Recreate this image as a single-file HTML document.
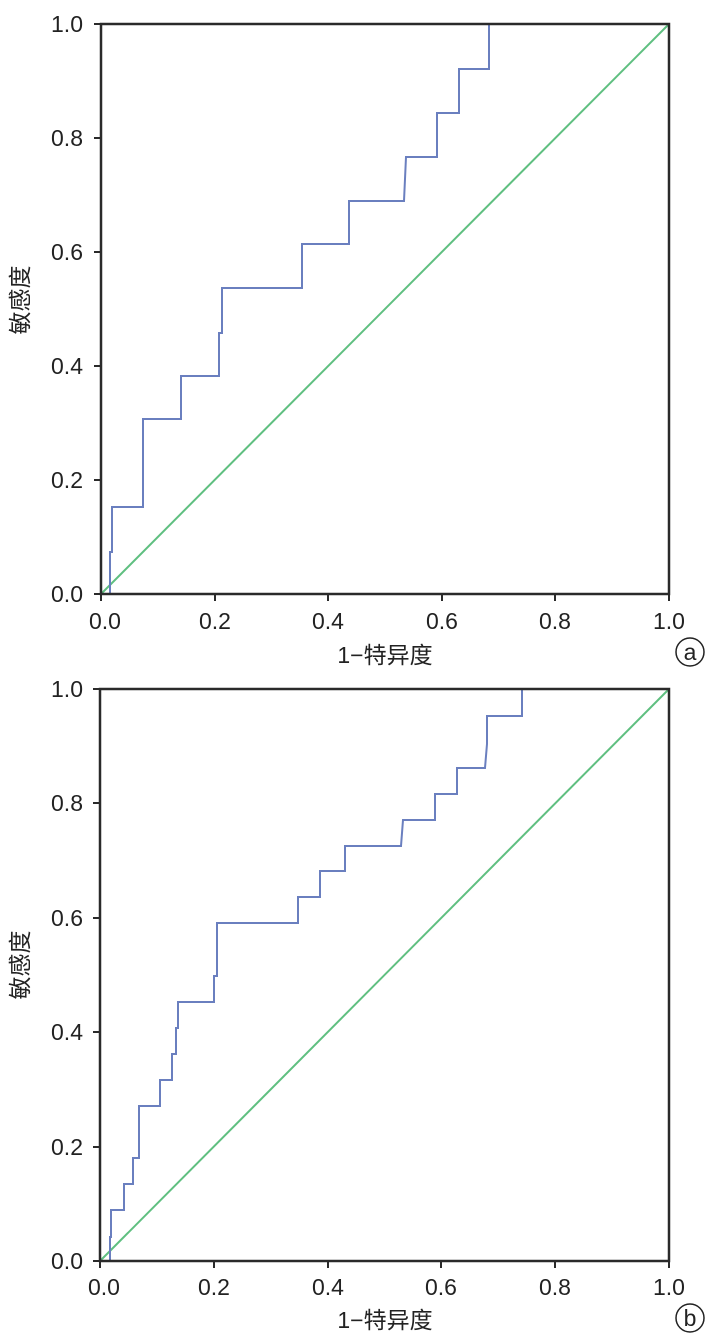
<!DOCTYPE html>
<html><head><meta charset="utf-8"><style>
html,body{margin:0;padding:0;background:#fff;width:709px;height:1337px;overflow:hidden}
text{font-family:"Liberation Sans","Noto Sans CJK SC",sans-serif;fill:#222}
</style></head><body>
<svg width="709" height="1337" viewBox="0 0 709 1337" xmlns="http://www.w3.org/2000/svg">
<g font-size="23">
<!-- Plot a -->
<line x1="101" y1="594" x2="669" y2="24" stroke="#5fbf80" stroke-width="2"/>
<polyline fill="none" stroke="#6a7fbf" stroke-width="2" points="110,594 110,552 112,552 112,507 143,507 143,419 181,419 181,376 219,376 219,333 222,333 222,288 302,288 302,244 349,244 349,201 404,201 406,157 437,157 437,113 459,113 459,69 489,69 489,24 669,24"/>
<rect x="101" y="24" width="568" height="570" fill="none" stroke="#2a2a2a" stroke-width="2.5"/>
<g stroke="#2a2a2a" stroke-width="2">
<line x1="94" y1="24" x2="101" y2="24"/><line x1="94" y1="138" x2="101" y2="138"/><line x1="94" y1="252" x2="101" y2="252"/><line x1="94" y1="366" x2="101" y2="366"/><line x1="94" y1="480" x2="101" y2="480"/><line x1="94" y1="594" x2="101" y2="594"/>
<line x1="101" y1="594" x2="101" y2="601"/><line x1="215" y1="594" x2="215" y2="601"/><line x1="328" y1="594" x2="328" y2="601"/><line x1="442" y1="594" x2="442" y2="601"/><line x1="555" y1="594" x2="555" y2="601"/><line x1="669" y1="594" x2="669" y2="601"/>
</g>
<g text-anchor="end"><text x="83" y="32">1.0</text><text x="83" y="146">0.8</text><text x="83" y="260">0.6</text><text x="83" y="374">0.4</text><text x="83" y="488">0.2</text><text x="83" y="602">0.0</text></g>
<g text-anchor="middle"><text x="105" y="629">0.0</text><text x="215" y="629">0.2</text><text x="328" y="629">0.4</text><text x="442" y="629">0.6</text><text x="555" y="629">0.8</text><text x="669" y="629">1.0</text></g>
<text x="385" y="663" text-anchor="middle">1−特异度</text>
<text x="28" y="300" text-anchor="middle" transform="rotate(-90 28 300)">敏感度</text>
<circle cx="690" cy="652" r="14" fill="none" stroke="#222" stroke-width="1.5"/><text x="690" y="660" text-anchor="middle">a</text>
<!-- Plot b -->
<line x1="100" y1="1261" x2="669" y2="689" stroke="#5fbf80" stroke-width="2"/>
<polyline fill="none" stroke="#6a7fbf" stroke-width="2" points="110,1261 110,1237 111,1237 111,1210 124,1210 124,1184 133,1184 133,1158 139,1158 139,1106 160,1106 160,1080 172,1080 172,1054 176,1054 176,1028 178,1028 178,1002 214,1002 214,976 217,976 217,923 298,923 298,897 320,897 320,871 345,871 345,846 401,846 403,820 435,820 435,794 457,794 457,768 485,768 487,744 487,716 522,716 522,689 669,689"/>
<rect x="100" y="689" width="569" height="572" fill="none" stroke="#2a2a2a" stroke-width="2.5"/>
<g stroke="#2a2a2a" stroke-width="2">
<line x1="93" y1="689" x2="100" y2="689"/><line x1="93" y1="803" x2="100" y2="803"/><line x1="93" y1="918" x2="100" y2="918"/><line x1="93" y1="1032" x2="100" y2="1032"/><line x1="93" y1="1147" x2="100" y2="1147"/><line x1="93" y1="1261" x2="100" y2="1261"/>
<line x1="100" y1="1261" x2="100" y2="1268"/><line x1="214" y1="1261" x2="214" y2="1268"/><line x1="328" y1="1261" x2="328" y2="1268"/><line x1="441" y1="1261" x2="441" y2="1268"/><line x1="555" y1="1261" x2="555" y2="1268"/><line x1="669" y1="1261" x2="669" y2="1268"/>
</g>
<g text-anchor="end"><text x="83" y="697">1.0</text><text x="83" y="811">0.8</text><text x="83" y="926">0.6</text><text x="83" y="1040">0.4</text><text x="83" y="1155">0.2</text><text x="83" y="1269">0.0</text></g>
<g text-anchor="middle"><text x="104" y="1295">0.0</text><text x="214" y="1295">0.2</text><text x="328" y="1295">0.4</text><text x="441" y="1295">0.6</text><text x="555" y="1295">0.8</text><text x="669" y="1295">1.0</text></g>
<text x="385" y="1328" text-anchor="middle">1−特异度</text>
<text x="28" y="965" text-anchor="middle" transform="rotate(-90 28 965)">敏感度</text>
<circle cx="690" cy="1318" r="14" fill="none" stroke="#222" stroke-width="1.5"/><text x="690" y="1326" text-anchor="middle">b</text>
</g>
</svg>
</body></html>
